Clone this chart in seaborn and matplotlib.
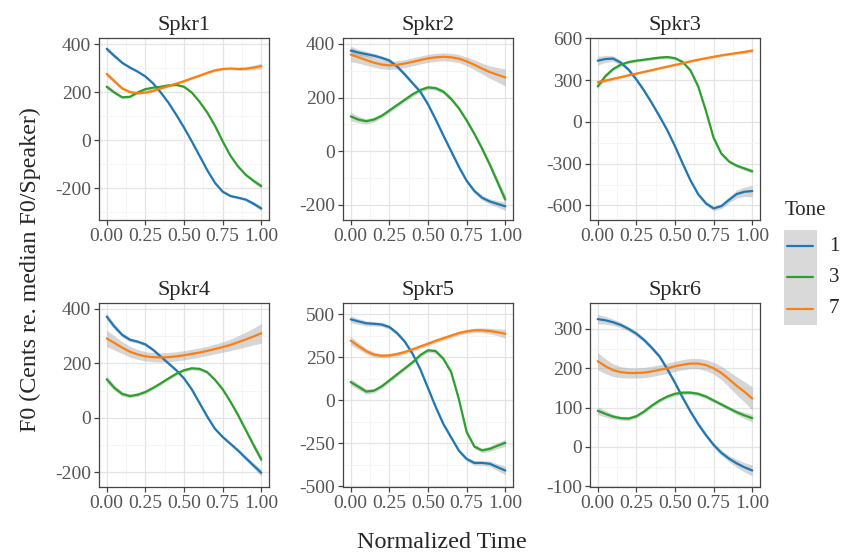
import numpy as np
import pandas as pd
import seaborn as sns
import matplotlib.pyplot as plt
from matplotlib.ticker import AutoMinorLocator

# normalized time grid
time = [0.00, 0.05, 0.10, 0.15, 0.20, 0.25, 0.30, 0.35, 0.40, 0.45, 0.50,
        0.55, 0.60, 0.65, 0.70, 0.75, 0.80, 0.85, 0.90, 0.95, 1.00]
tones = ["1", "3", "7"]
speakers = ["Spkr1", "Spkr2", "Spkr3", "Spkr4", "Spkr5", "Spkr6"]

# smoothed F0 curves (cents re. median F0/speaker)
spkr1_t1 = [380, 350, 322, 302, 285, 265, 236, 198, 155, 105, 52, -5, -65, -125, -178, -215, -233, -240, -248, -265, -285]
spkr1_t3 = [222, 198, 178, 180, 198, 212, 218, 222, 228, 230, 222, 198, 160, 115, 60, -5, -65, -110, -145, -170, -192]
spkr1_t7 = [275, 245, 215, 200, 195, 198, 205, 215, 225, 235, 245, 257, 268, 280, 290, 296, 298, 296, 297, 302, 308]

spkr2_t1 = [375, 368, 362, 356, 348, 338, 316, 286, 254, 222, 175, 118, 58, 0, -58, -110, -148, -173, -187, -196, -205]
spkr2_t3 = [130, 118, 112, 118, 132, 152, 172, 192, 212, 228, 238, 235, 222, 195, 160, 115, 65, 10, -50, -115, -180]
spkr2_t7 = [360, 350, 340, 330, 323, 320, 322, 327, 333, 340, 346, 350, 352, 350, 345, 335, 322, 308, 295, 285, 275]

spkr3_t1 = [440, 452, 455, 425, 375, 305, 225, 135, 40, -60, -175, -300, -420, -520, -585, -622, -605, -560, -518, -502, -497]
spkr3_t3 = [255, 330, 380, 412, 430, 440, 447, 455, 462, 466, 458, 430, 370, 255, 80, -115, -228, -285, -315, -335, -355]
spkr3_t7 = [285, 297, 310, 322, 335, 347, 360, 372, 385, 397, 410, 422, 435, 447, 458, 468, 478, 487, 495, 503, 512]

spkr4_t1 = [372, 335, 305, 287, 280, 270, 250, 225, 200, 175, 145, 105, 55, 5, -40, -70, -95, -120, -148, -175, -202]
spkr4_t3 = [142, 110, 88, 80, 85, 95, 110, 127, 145, 162, 175, 182, 180, 168, 140, 105, 60, 10, -45, -100, -153]
spkr4_t7 = [292, 275, 258, 243, 233, 226, 223, 222, 223, 226, 230, 235, 240, 246, 253, 260, 268, 278, 288, 299, 311]

spkr5_t1 = [470, 458, 447, 444, 440, 425, 390, 340, 270, 180, 70, -40, -140, -217, -294, -342, -365, -365, -370, -390, -409]
spkr5_t3 = [105, 78, 50, 55, 80, 115, 150, 185, 220, 262, 290, 285, 240, 163, 5, -185, -270, -292, -283, -265, -248]
spkr5_t7 = [346, 315, 285, 265, 258, 260, 268, 280, 295, 312, 328, 345, 360, 375, 390, 400, 406, 406, 402, 395, 386]

spkr6_t1 = [325, 322, 317, 310, 300, 288, 272, 252, 230, 198, 163, 125, 90, 58, 30, 5, -15, -30, -42, -52, -60]
spkr6_t3 = [92, 84, 77, 73, 72, 78, 90, 105, 118, 128, 135, 138, 138, 135, 128, 118, 108, 98, 88, 80, 73]
spkr6_t7 = [218, 205, 195, 190, 188, 188, 189, 192, 196, 200, 205, 209, 212, 212, 208, 200, 188, 172, 155, 140, 123]

# half-width of the confidence ribbons
spkr1_se1 = [10, 8, 6, 5, 5, 5, 5, 5, 5, 5, 5, 5, 5, 5, 5, 5, 5, 5, 6, 8, 10]
spkr1_se3 = [9, 7, 6, 5, 5, 5, 5, 5, 5, 5, 5, 5, 5, 5, 5, 5, 5, 5, 6, 8, 10]
spkr1_se7 = [10, 8, 6, 5, 5, 5, 5, 5, 5, 5, 5, 5, 5, 5, 5, 5, 5, 6, 7, 9, 12]
spkr2_se1 = [16, 12, 10, 9, 8, 8, 8, 8, 8, 8, 8, 8, 8, 8, 8, 8, 8, 9, 10, 12, 16]
spkr2_se3 = [16, 12, 10, 9, 8, 8, 8, 8, 8, 8, 8, 8, 8, 8, 8, 8, 8, 9, 11, 14, 18]
spkr2_se7 = [26, 22, 19, 17, 16, 15, 15, 15, 15, 15, 15, 15, 15, 15, 15, 16, 18, 20, 23, 27, 32]
spkr3_se1 = [32, 25, 20, 17, 15, 15, 15, 15, 15, 15, 15, 15, 15, 15, 15, 16, 18, 22, 28, 34, 42]
spkr3_se3 = [20, 15, 12, 11, 10, 10, 10, 10, 10, 10, 10, 10, 10, 10, 10, 10, 10, 11, 12, 14, 16]
spkr3_se7 = [15, 12, 10, 9, 8, 8, 8, 8, 8, 8, 8, 8, 8, 8, 8, 8, 8, 9, 10, 12, 15]
spkr4_se1 = [12, 10, 8, 7, 6, 6, 6, 6, 6, 6, 6, 6, 6, 6, 6, 6, 6, 7, 8, 10, 13]
spkr4_se3 = [12, 10, 8, 7, 6, 6, 6, 6, 6, 6, 6, 6, 6, 6, 6, 6, 6, 7, 8, 10, 13]
spkr4_se7 = [30, 26, 22, 20, 18, 17, 17, 17, 17, 17, 17, 17, 17, 17, 18, 19, 21, 24, 27, 31, 36]
spkr5_se1 = [20, 17, 15, 13, 12, 12, 12, 12, 12, 12, 12, 12, 12, 12, 12, 12, 13, 14, 16, 20, 25]
spkr5_se3 = [20, 17, 15, 13, 12, 12, 12, 12, 12, 12, 12, 12, 12, 12, 12, 12, 12, 13, 15, 17, 20]
spkr5_se7 = [25, 20, 16, 14, 12, 12, 12, 12, 12, 12, 12, 12, 12, 12, 12, 12, 13, 14, 16, 20, 25]
spkr6_se1 = [12, 10, 8, 7, 6, 6, 6, 6, 6, 6, 6, 6, 6, 6, 6, 6, 7, 8, 10, 12, 14]
spkr6_se3 = [10, 8, 6, 5, 5, 5, 5, 5, 5, 5, 5, 5, 5, 5, 5, 5, 5, 5, 6, 8, 10]
spkr6_se7 = [22, 19, 16, 14, 13, 13, 13, 13, 13, 13, 13, 13, 13, 13, 14, 15, 17, 20, 23, 26, 30]

curves = [
    (spkr1_t1, spkr1_t3, spkr1_t7), (spkr2_t1, spkr2_t3, spkr2_t7),
    (spkr3_t1, spkr3_t3, spkr3_t7), (spkr4_t1, spkr4_t3, spkr4_t7),
    (spkr5_t1, spkr5_t3, spkr5_t7), (spkr6_t1, spkr6_t3, spkr6_t7),
]
bands = [
    (spkr1_se1, spkr1_se3, spkr1_se7), (spkr2_se1, spkr2_se3, spkr2_se7),
    (spkr3_se1, spkr3_se3, spkr3_se7), (spkr4_se1, spkr4_se3, spkr4_se7),
    (spkr5_se1, spkr5_se3, spkr5_se7), (spkr6_se1, spkr6_se3, spkr6_se7),
]

y_ticks = {
    "Spkr1": [-200, 0, 200, 400], "Spkr2": [-200, 0, 200, 400],
    "Spkr3": [-600, -300, 0, 300, 600], "Spkr4": [-200, 0, 200, 400],
    "Spkr5": [-500, -250, 0, 250, 500], "Spkr6": [-100, 0, 100, 200, 300],
}
y_lims = {
    "Spkr1": (-333, 425), "Spkr2": (-256, 422), "Spkr3": (-705, 603),
    "Spkr4": (-254, 422), "Spkr5": (-505, 565), "Spkr6": (-102, 366),
}

palette = {"1": "#1f77b4", "3": "#2ca02c", "7": "#ff7f0e"}

rows = []
for spk, spk_curves, spk_bands in zip(speakers, curves, bands):
    for tone, f0, se in zip(tones, spk_curves, spk_bands):
        for t, y, s in zip(time, f0, se):
            rows.append({"speaker": spk, "tone": tone, "time": t, "f0": y, "se": s})
df = pd.DataFrame(rows)


def draw_panel(data, color=None, label=None):
    ax = plt.gca()
    for tone in tones:
        sub = data[data["tone"] == tone]
        ax.fill_between(sub["time"], sub["f0"] - sub["se"], sub["f0"] + sub["se"],
                        color="#999999", alpha=0.4, lw=0)
    sns.lineplot(data=data, x="time", y="f0", hue="tone", hue_order=tones,
                 palette=palette, errorbar=None, legend=False, lw=1.6, ax=ax)


sns.set_theme(style="white")
plt.rcParams["font.family"] = ["Liberation Serif", "DejaVu Serif"]

g = sns.FacetGrid(df, col="speaker", col_wrap=3, sharex=False, sharey=False,
                  despine=False, height=2.5)
g.map_dataframe(draw_panel)
g.figure.set_size_inches(8.41, 5.59)
g.set_titles("{col_name}", size=16, pad=6)
g.set_axis_labels("", "")

W, H = 841.0, 559.0
lefts = [99, 343, 590]
tops = [38, 303]
bottoms = [220, 487]
for i, spk in enumerate(speakers):
    ax = g.axes_dict[spk]
    r, c = divmod(i, 3)
    ax.set_position([lefts[c] / W, 1 - bottoms[r] / H, 170 / W, (bottoms[r] - tops[r]) / H])
    ax.set_xlim(-0.05, 1.05)
    ax.set_xticks([0, 0.25, 0.5, 0.75, 1.0])
    ax.set_xticklabels(["0.00", "0.25", "0.50", "0.75", "1.00"])
    ax.set_yticks(y_ticks[spk])
    ax.set_yticklabels([str(v) for v in y_ticks[spk]])
    ax.set_ylim(*y_lims[spk])
    ax.xaxis.set_minor_locator(AutoMinorLocator(2))
    ax.yaxis.set_minor_locator(AutoMinorLocator(2))
    ax.grid(which="major", color="#e4e4e4", lw=0.9)
    ax.grid(which="minor", color="#f1f1f1", lw=0.5)
    ax.set_axisbelow(True)
    ax.set_facecolor("white")
    for sp in ax.spines.values():
        sp.set_color("#444444")
        sp.set_linewidth(0.9)
    ax.tick_params(which="major", length=3.5, width=0.9, color="#444444",
                   labelsize=14, labelcolor="#555555", pad=2,
                   bottom=True, left=True)
    ax.tick_params(which="minor", length=0)
    ax.set_xlabel("")
    ax.set_ylabel("")

fig = g.figure
fig.text(30 / W, 1 - 270 / H, "F0 (Cents re. median F0/Speaker)", rotation=90,
         ha="center", va="center", fontsize=17.3)
fig.text(442 / W, 1 - 543 / H, "Normalized Time", ha="center", va="center", fontsize=17.4)

# legend
fig.text(785 / W, 1 - 211 / H, "Tone", ha="left", va="center", fontsize=15)
lax = fig.add_axes([784 / W, 1 - 325 / H, 33 / W, 95 / H])
lax.set_facecolor("#d9d9d9")
for sp in lax.spines.values():
    sp.set_visible(False)
lax.set_xticks([])
lax.set_yticks([])
lax.set_xlim(0, 1)
lax.set_ylim(0, 1)
for tone, yk in zip(tones, [0.83, 0.505, 0.17]):
    lax.plot([0.1, 0.88], [yk, yk], color=palette[tone], lw=1.6)
    fig.text(829 / W, 1 - (325 - yk * 95) / H, tone, ha="left", va="center", fontsize=15)

fig.savefig("out.png", dpi=100)
